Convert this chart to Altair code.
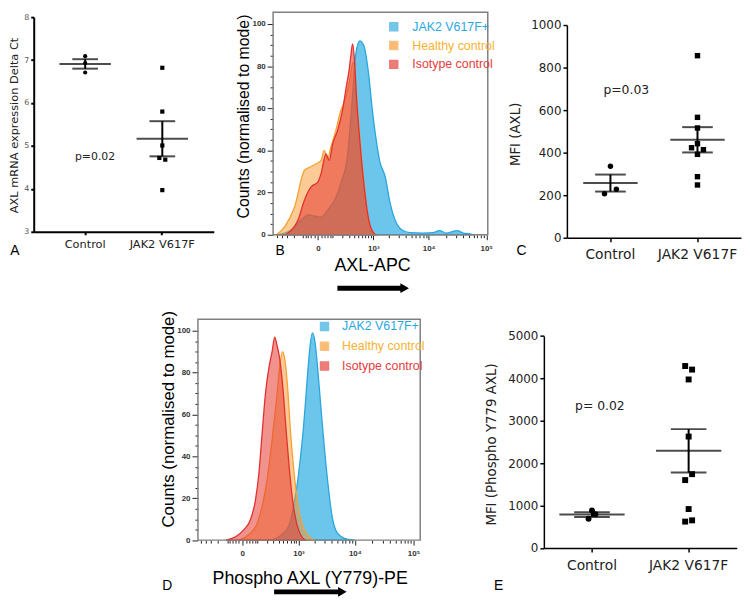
import altair as alt
import pandas as pd

FONT_S = "DejaVu Sans"
FONT_H = "Liberation Sans"

GROUPS = ["Control", "JAK2 V617F"]
SERIES = ["JAK2 V617F+", "Healthy control", "Isotype control"]

# ---------------- Panel A : AXL mRNA expression (delta Ct)
a_control = [7.09, 6.93, 6.71]
a_control_side = [0, 0, 0]
a_jak2 = [6.82, 5.80, 5.01, 4.72, 4.68, 3.97]
a_jak2_side = [0, 0, 0, -1, 1, 0]
a_ticks = [3, 4, 5, 6, 7, 8]
a_p_text, a_p_y = "p=0.02", 4.75

# ---------------- Panel C : MFI (AXL)
c_control = [336, 228, 207]
c_control_side = [0, 1, -1]
c_jak2 = [856, 566, 516, 442, 423, 414, 392, 287, 248]
c_jak2_side = [0, 0, 0, 0, -1, 1, 0, 0, 0]
c_ticks = [0, 200, 400, 600, 800, 1000]
c_p_text, c_p_y = "p=0.03", 693

# ---------------- Panel E : MFI (Phospho Y779 AXL)
e_control = [885, 795, 690]
e_control_side = [0, 1, -1]
e_jak2 = [4291, 4207, 3974, 2628, 1602, 1742, 919, 623, 653]
e_jak2_side = [-1, 1, 0, 0, -1, 1, 0, -1, 1]
e_ticks = [0, 1000, 2000, 3000, 4000, 5000]
e_p_text, e_p_y = "p= 0.02", 3351

# ---------------- Panel B : AXL-APC histograms
b_jak2_x = [-480, -235, -120, -60, -20, 15, 60, 110, 185, 275, 365, 430, 530, 645, 810, 945,
            1140, 1315, 1680, 2070, 2540, 3340, 4680, 8000, 12000, 15500, 20000, 31500, 40000,
            50000, 61000]
b_jak2_y = [0, 2.4, 7, 9.4, 8.9, 8.3, 11.9, 15.8, 24.5, 36.8, 65, 85, 92, 89.8, 76, 60.4,
            44.7, 35.3, 27.4, 14.9, 7, 2.4, 1, 0.8, 1, 2, 0.8, 2, 0.8, 0.5, 0]
b_hc_x = [-524, -344, -192, -89, -51, -10, 16, 35, 58, 83, 128, 183, 226, 302, 382, 483, 569,
          665, 774, 944, 1141]
b_hc_y = [0, 3.9, 13.3, 30.6, 32, 33.7, 35.3, 40, 36, 41.5, 49.4, 58.8, 62.7, 71.3, 82, 57, 38,
          22.7, 8.6, 1.6, 0]
b_iso_x = [-330, -285, -152, -89, -40, -1, 16, 46, 70, 98, 146, 204, 265, 302, 331, 368, 409,
           452, 532, 626, 753, 874, 1092]
b_iso_y = [0, 0.8, 7, 16.5, 22.7, 25, 29, 38.4, 35.3, 43, 49.4, 58.8, 71.3, 77.6, 83.9, 90.5, 82,
           65, 44.7, 27.4, 11.8, 3.9, 0]

# ---------------- Panel D : Phospho AXL (Y779)-PE histograms
d_jak2_x = [275, 464, 639, 802, 928, 1072, 1240, 1427, 1598, 1811, 2016, 2251, 2576, 2957, 3474,
            3961, 4649, 5898, 7688, 9950]
d_jak2_y = [0, 2.7, 6.6, 16, 25.4, 38, 53.7, 74, 89.8, 98.9, 94.5, 82, 63, 44.3, 25.4, 12.9, 5,
            1.6, 0.3, 0]
d_hc_x = [-17, 37, 99, 146, 204, 275, 360, 426, 480, 544, 618, 688, 802, 928, 1072, 1240, 1533,
          2016]
d_hc_y = [0, 2.7, 8, 16, 28.6, 47.4, 69.4, 85, 90, 85, 71, 53.7, 34.9, 20.7, 11.3, 5.8, 1.9, 0]
d_iso_x = [-114, -37, 8.5, 47, 84, 114, 146, 183, 235, 275, 319, 360, 405, 480, 563, 656, 767,
           861, 1000, 1154, 1328]
d_iso_y = [0, 1.6, 5, 9.7, 19, 31.7, 50.5, 69.4, 83.5, 89.8, 96.9, 93, 88, 74, 53.7, 34.9, 19.2,
           11.3, 5, 1.6, 0]

# axis tick values (flow cytometry biexponential-like axis)
hist_x_ticks = [-500, -400, -300, -200, -100, -80, -60, -40, -20, 0, 20, 40, 60, 80,
                100, 200, 300, 400, 500, 600, 700, 800, 900, 1000,
                2000, 3000, 4000, 5000, 6000, 7000, 8000, 9000, 10000,
                20000, 30000, 40000, 50000, 60000, 70000, 80000, 90000, 100000]
hist_y_ticks = [0, 5, 10, 15, 20, 25, 30, 35, 40, 45, 50, 55, 60, 65, 70, 75, 80, 85, 90, 95, 100]

FILLS = ["#27aae1", "#f7962c", "#e8392f"]
STROKES = ["#2aa6dc", "#f4a233", "#e2302f"]
OPACITY = [0.68, 0.5, 0.55]
LABEL_COLOR_EXPR = ("datum.label == 'JAK2 V617F+' ? '#29a8df' : "
                    "datum.label == 'Healthy control' ? '#f8b133' : '#e63c3b'")

VIEW_W, VIEW_H = 740, 590


def scatter_panel(ctrl, ctrl_side, jak, jak_side, *, xrange, po, ydomain, yrange,
                  yticks, ytitle, ytitle_x, ytitle_y, ytitle_size,
                  ylabel_size, ylabel_color, xlabel_size, xlabel_pad, tick_size, line_w,
                  mean_len, cap_len, pt_size, jit, ptext, py, pdx, psize, letter, lx, ly):
    df = pd.DataFrame({
        "group": [GROUPS[0]] * len(ctrl) + [GROUPS[1]] * len(jak),
        "value": list(ctrl) + list(jak),
        "side": list(ctrl_side) + list(jak_side),
    })
    step = (xrange[1] - xrange[0]) / (1.5 + 2 * po)
    half_band = step * 0.25
    xaxis = alt.Axis(orient="bottom", title=None, labelAngle=0, labelFont=FONT_S,
                     labelFontSize=xlabel_size, labelColor="#222", labelPadding=xlabel_pad,
                     tickSize=tick_size, tickWidth=line_w, tickColor="black",
                     domainColor="black", domainWidth=line_w,
                     offset=-(VIEW_H - yrange[0]), grid=False)
    yaxis = alt.Axis(orient="left", values=yticks, format="d", title=ytitle, titleFont=FONT_S,
                     titleFontSize=ytitle_size, titleFontWeight="normal", titleColor="#222",
                     titleX=ytitle_x, titleY=ytitle_y, titleAngle=270, titleAlign="center",
                     titleBaseline="middle", labelFont=FONT_S, labelFontSize=ylabel_size,
                     labelColor=ylabel_color, labelPadding=2, tickSize=tick_size,
                     tickWidth=line_w, tickColor="black", domainColor="black",
                     domainWidth=line_w, offset=-xrange[0], grid=False)
    xs = alt.Scale(type="band", domain=GROUPS, range=xrange, paddingInner=0.5, paddingOuter=po)
    ys = alt.Scale(domain=ydomain, range=yrange, nice=False, zero=False)

    def X():
        return alt.X("group:N", scale=xs, axis=xaxis)

    def Y(f):
        return alt.Y(f, scale=ys, axis=yaxis)

    base = alt.Chart(df)
    pts = base.mark_point(filled=True, color="black", opacity=1, size=pt_size).encode(
        x=X(),
        xOffset=alt.XOffset("side:Q", scale=alt.Scale(
            domain=[-1, 1], range=[half_band - jit, half_band + jit])),
        y=Y("value:Q"),
        shape=alt.Shape("group:N", scale=alt.Scale(domain=GROUPS, range=["circle", "square"]),
                        legend=None),
    )
    stats = base.transform_aggregate(
        mean="mean(value)", sem="stderr(value)", groupby=["group"]
    ).transform_calculate(lo="datum.mean - datum.sem", hi="datum.mean + datum.sem")
    mean_t = stats.mark_tick(color="black", thickness=2, size=mean_len).encode(x=X(), y=Y("mean:Q"))
    lo_t = stats.mark_tick(color="black", thickness=2, size=cap_len).encode(x=X(), y=Y("lo:Q"))
    hi_t = stats.mark_tick(color="black", thickness=2, size=cap_len).encode(x=X(), y=Y("hi:Q"))
    bar = stats.mark_rule(color="black", strokeWidth=2).encode(x=X(), y=Y("lo:Q"), y2="hi:Q")
    ptxt = alt.Chart(pd.DataFrame({"group": [GROUPS[0]], "value": [py], "label": [ptext]})
                     ).mark_text(dx=pdx, font=FONT_S, fontSize=psize, color="#222").encode(
        x=X(), y=Y("value:Q"), text="label:N")
    let = alt.Chart(pd.DataFrame({"letter": [letter]})).mark_text(
        font=FONT_H, fontSize=14, color="black").encode(
        x=alt.value(lx), y=alt.value(ly), text="letter:N")
    return alt.layer(pts, bar, mean_t, lo_t, hi_t, ptxt, let)


def hist_panel(curves, *, xdomain, ymax, xrange, yrange, xtitle, xtitle_x, xtitle_y, ytitle_y,
               ytitle_size, legend_x, legend_y, legend_row_pad, label_offset, letter, lx, ly,
               arrow_x0, arrow_x1, arrow_y):
    major = "datum.value == 0 || datum.value == 1000 || datum.value == 10000 || datum.value == 100000"
    xaxis = alt.Axis(orient="bottom", offset=-(VIEW_H - yrange[0]), values=hist_x_ticks,
                     labelExpr=("datum.value == 0 ? '0' : datum.value == 1000 ? '10³' : "
                                "datum.value == 10000 ? '10⁴' : datum.value == 100000 ? '10⁵' : ''"),
                     labelOverlap=False, labelFlush=False, domain=False, grid=False,
                     tickSize={"condition": {"test": major, "value": 5}, "value": 3},
                     tickColor="#222", tickWidth=1, labelFont=FONT_H, labelFontSize=8,
                     labelFontWeight="bold", labelColor="#333", labelPadding=5,
                     title=xtitle, titleFont=FONT_H, titleFontSize=18, titleFontWeight="normal",
                     titleColor="black", titleX=xtitle_x, titleY=xtitle_y, titleAlign="center",
                     titleBaseline="middle")
    yaxis = alt.Axis(orient="left", offset=-xrange[0], values=hist_y_ticks,
                     labelExpr="datum.value % 20 == 0 ? datum.label : ''",
                     labelOverlap=False, domain=False, grid=False,
                     tickSize={"condition": {"test": "datum.value % 20 == 0", "value": 6},
                               "value": 3},
                     tickColor="#222", tickWidth=1, labelFont=FONT_H, labelFontSize=8,
                     labelFontWeight="bold", labelColor="#333", labelPadding=2,
                     title="Counts (normalised to mode)", titleFont=FONT_H,
                     titleFontSize=ytitle_size, titleFontWeight="normal", titleColor="black",
                     titleX=-30, titleY=ytitle_y, titleAngle=270, titleAlign="center",
                     titleBaseline="middle")
    xs = alt.Scale(type="symlog", constant=125, domain=xdomain, range=xrange, nice=False)
    ys = alt.Scale(domain=[0, ymax], range=yrange, nice=False)
    legend = alt.Legend(title=None, orient="none", legendX=legend_x, legendY=legend_y,
                        symbolType="square", symbolSize=64, symbolStrokeWidth=1.5,
                        symbolOpacity=0.65,
                        labelFont=FONT_H, labelFontSize=12.5, labelColor={"expr": LABEL_COLOR_EXPR},
                        rowPadding=legend_row_pad, labelOffset=label_offset, padding=0)
    fill_scale = alt.Scale(domain=SERIES, range=FILLS)
    stroke_scale = alt.Scale(domain=SERIES, range=STROKES)
    layers = []
    for name, xv, yv, op in curves:
        df = pd.DataFrame({"series": name, "fluor": xv, "count": yv})
        layers.append(alt.Chart(df).mark_area(fillOpacity=op, strokeWidth=1.3,
                                              interpolate="monotone").encode(
            x=alt.X("fluor:Q", scale=xs, axis=xaxis),
            y=alt.Y("count:Q", scale=ys, axis=yaxis),
            fill=alt.Fill("series:N", scale=fill_scale, legend=legend),
            stroke=alt.Stroke("series:N", scale=stroke_scale, legend=legend),
        ))
    # plot frame drawn along the scale domains
    frame_df = pd.DataFrame({"x0": [xdomain[0]], "x1": [xdomain[1]], "y0": [0], "y1": [ymax]})
    frame = alt.Chart(frame_df).mark_rect(fillOpacity=0, stroke="#808080", strokeWidth=1.5).encode(
        x=alt.X("x0:Q", scale=xs, axis=xaxis), x2="x1:Q",
        y=alt.Y("y0:Q", scale=ys, axis=yaxis), y2="y1:Q")
    one = pd.DataFrame({"letter": [letter]})
    let = alt.Chart(one).mark_text(font=FONT_H, fontSize=14, color="black").encode(
        x=alt.value(lx), y=alt.value(ly), text="letter:N")
    shaft = alt.Chart(one).mark_rule(color="black", strokeWidth=5).encode(
        x=alt.value(arrow_x0), x2=alt.value(arrow_x1 - 5), y=alt.value(arrow_y))
    head = alt.Chart(one).mark_point(shape="triangle-right", filled=True, color="black",
                                     opacity=1, size=100).encode(
        x=alt.value(arrow_x1 - 5), y=alt.value(arrow_y))
    return alt.layer(*layers, frame, let, shaft, head)


panel_a = scatter_panel(
    a_control, a_control_side, a_jak2, a_jak2_side,
    xrange=[24, 206], po=0.417, ydomain=[3, 8], yrange=[222, 5],
    yticks=a_ticks, ytitle="AXL mRNA expression Delta Ct", ytitle_x=-19, ytitle_y=114,
    ytitle_size=11.5, ylabel_size=8, ylabel_color="#555",
    xlabel_size=11.5, xlabel_pad=4, tick_size=3, line_w=2, mean_len=52, cap_len=26, pt_size=18,
    jit=3, ptext=a_p_text, py=a_p_y, pdx=10, psize=11, letter="A", lx=5, ly=241)

panel_b = hist_panel(
    [("JAK2 V617F+", b_jak2_x, b_jak2_y, OPACITY[0]),
     ("Healthy control", b_hc_x, b_hc_y, OPACITY[1]),
     ("Isotype control", b_iso_x, b_iso_y, OPACITY[2])],
    xdomain=[-620, 106000], ymax=105.6, xrange=[266, 483], yrange=[225, 0],
    xtitle="AXL-APC", xtitle_x=366, xtitle_y=31, ytitle_y=105, ytitle_size=16,
    legend_x=381.7, legend_y=8.5, legend_row_pad=4, label_offset=12.5, letter="B", lx=273,
    ly=241, arrow_x0=331, arrow_x1=404, arrow_y=279)

panel_c = scatter_panel(
    c_control, c_control_side, c_jak2, c_jak2_side,
    xrange=[563, 739], po=0.25, ydomain=[0, 1000], yrange=[228, 13],
    yticks=c_ticks, ytitle="MFI (AXL)", ytitle_x=-52, ytitle_y=123, ytitle_size=13.5,
    ylabel_size=12, ylabel_color="#222", xlabel_size=14,
    xlabel_pad=6, tick_size=4, line_w=1.5, mean_len=55, cap_len=31, pt_size=30, jit=6,
    ptext=c_p_text, py=c_p_y, pdx=16, psize=12.5, letter="C", lx=517, ly=241)

panel_d = hist_panel(
    [("JAK2 V617F+", d_jak2_x, d_jak2_y, OPACITY[0]),
     ("Healthy control", d_hc_x, d_hc_y, OPACITY[1]),
     ("Isotype control", d_iso_x, d_iso_y, OPACITY[2])],
    xdomain=[-580, 130000], ymax=105.5, xrange=[190, 414.7], yrange=[533.7, 310.3],
    xtitle="Phospho AXL (Y779)-PE", xtitle_x=303, xtitle_y=39, ytitle_y=411, ytitle_size=17,
    legend_x=311.7, legend_y=311.5, legend_row_pad=5, label_offset=11.5, letter="D", lx=159,
    ly=580, arrow_x0=267, arrow_x1=341, arrow_y=586)

panel_e = scatter_panel(
    e_control, e_control_side, e_jak2, e_jak2_side,
    xrange=[539.7, 734.7], po=0.248, ydomain=[0, 5000], yrange=[541.7, 327.3],
    yticks=e_ticks, ytitle="MFI (Phospho Y779 AXL)", ytitle_x=-53, ytitle_y=436.5,
    ytitle_size=13.5, ylabel_size=12, ylabel_color="#222", xlabel_size=14, xlabel_pad=7,
    tick_size=4, line_w=1.5, mean_len=66, cap_len=36, pt_size=36, jit=3.5,
    ptext=e_p_text, py=e_p_y, pdx=8, psize=12.5, letter="E", lx=494, ly=580)

chart = alt.layer(panel_a, panel_b, panel_c, panel_d, panel_e).resolve_scale(
    x="independent", y="independent", xOffset="independent",
    fill="independent", stroke="independent", shape="independent",
).resolve_axis(x="independent", y="independent").resolve_legend(
    fill="independent", stroke="independent", shape="independent",
).properties(width=VIEW_W, height=VIEW_H, padding=0).configure_view(stroke=None)

chart.save("out.html", embed_options={"renderer": "svg", "actions": False})
